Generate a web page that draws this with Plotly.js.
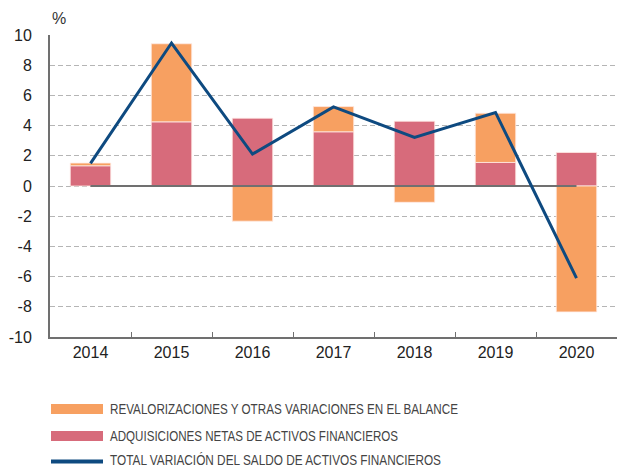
<!DOCTYPE html>
<html>
<head>
<meta charset="utf-8">
<script src="https://cdn.plot.ly/plotly-3.0.1.min.js"></script>
<style>html,body{margin:0;padding:0;background:#fff;}#chart{width:617px;height:468px;}</style>
</head>
<body>
<div id="chart"></div>
<script>
// Data
var years = ["2014", "2015", "2016", "2017", "2018", "2019", "2020"];
var revalorizaciones = [0.18, 5.17, -2.33, 1.67, -1.08, 3.26, -8.34];
var adquisiciones = [1.34, 4.25, 4.49, 3.59, 4.29, 1.56, 2.22];
var totalVariacion = [1.5, 9.47, 2.11, 5.24, 3.22, 4.87, -6.1];
var zeroBase = [0, 0, 0, 0, 0, 0, 0];
var yTicks = [-10, -8, -6, -4, -2, 0, 2, 4, 6, 8, 10];
var legendLabels = [
  "REVALORIZACIONES Y OTRAS VARIACIONES EN EL BALANCE",
  "ADQUISICIONES NETAS DE ACTIVOS FINANCIEROS",
  "TOTAL VARIACIÓN DEL SALDO DE ACTIVOS FINANCIEROS"
];

var cOrange = "#F7A061", cPink = "#D76B7B", cBlue = "#0E4A80", cAxis = "#707070";
var W = 617, H = 468, L = 50, R = 0, T = 35, B = 131;
function px(x) { return (x - L) / (W - L - R); }
function py(y) { return (H - B - y) / (H - B - T); }

var traces = [
  {type: "bar", x: years, y: adquisiciones, name: legendLabels[1], width: 0.5,
   marker: {color: cPink, line: {color: "rgba(255,235,230,0.8)", width: 1}}, showlegend: false},
  {type: "bar", x: years, y: revalorizaciones, name: legendLabels[0], width: 0.5,
   marker: {color: cOrange, line: {color: "rgba(255,235,230,0.8)", width: 1}}, showlegend: false},
  {type: "scatter", mode: "lines", x: years, y: zeroBase, line: {color: cAxis, width: 2},
   hoverinfo: "skip", showlegend: false},
  {type: "scatter", mode: "lines", x: years, y: totalVariacion, name: legendLabels[2],
   line: {color: cBlue, width: 3}, showlegend: false}
];

var legendFont = {family: "'Liberation Sans', Arial, sans-serif", size: 14, color: "#444"};
var shapes = [
  {type: "rect", xref: "paper", yref: "paper", x0: px(51), x1: px(103), y0: py(404), y1: py(414), fillcolor: cOrange, line: {width: 0}},
  {type: "rect", xref: "paper", yref: "paper", x0: px(51), x1: px(103), y0: py(431), y1: py(441), fillcolor: cPink, line: {width: 0}},
  {type: "line", xref: "paper", yref: "paper", x0: px(51), x1: px(103), y0: py(461.5), y1: py(461.5), line: {color: cBlue, width: 4}}
];
var legY = [409, 435.5, 460];
var legLeft = 110;
var legWidths = [348, 288, 331];
var annotations = legendLabels.map(function (t, i) {
  return {xref: "paper", yref: "paper", x: px(legLeft), y: py(legY[i]), xanchor: "left", yanchor: "middle",
          text: t, showarrow: false, font: legendFont};
});
annotations.push({xref: "paper", yref: "paper", x: px(50), y: py(18), xanchor: "left", yanchor: "middle",
  text: "%", showarrow: false, font: {family: "'Liberation Sans', Arial, sans-serif", size: 16, color: "#333"}});

var layout = {
  width: W, height: H,
  margin: {l: L, r: R, t: T, b: B, pad: 0},
  paper_bgcolor: "#fff", plot_bgcolor: "#fff",
  barmode: "relative",
  showlegend: false,
  font: {family: "'Liberation Sans', Arial, sans-serif", size: 16, color: "#222"},
  xaxis: {
    type: "category", range: [-0.5, 6.5], tickvals: years, ticktext: years,
    showgrid: false, zeroline: false, showline: true, linecolor: cAxis, linewidth: 2,
    ticks: "inside", tickson: "boundaries", ticklen: 5, tickcolor: cAxis, tickwidth: 1,
    tickfont: {size: 16, color: "#222"}, fixedrange: true
  },
  yaxis: {
    range: [-10, 10], tickvals: yTicks, ticktext: yTicks.map(String),
    showgrid: true, gridcolor: "#b5b5b5", gridwidth: 1, griddash: "5px,3px",
    zeroline: false, showline: true, linecolor: cAxis, linewidth: 2,
    ticks: "outside", ticklen: 13, tickcolor: "rgba(0,0,0,0)",
    tickfont: {size: 16, color: "#222"}, fixedrange: true
  },
  shapes: shapes,
  annotations: annotations
};

Plotly.newPlot("chart", traces, layout, {displayModeBar: false, staticPlot: true}).then(function () {
  // condense legend text horizontally, like the narrow font of the reference
  var svg = document.querySelector("#chart .main-svg:last-of-type");
  var texts = document.querySelectorAll(".annotation-text");
  texts.forEach(function (el) {
    var idx = legendLabels.indexOf(el.textContent);
    if (idx < 0) return;
    var bb = el.getBBox();
    var shift = legLeft - bb.x; // bbox in local coords; we want left edge at legLeft in page coords
    var ctm = el.getScreenCTM();
    var pageLeft = bb.x + (ctm ? ctm.e : 0);
    var newX = bb.x + (legLeft - pageLeft);
    el.setAttribute("text-anchor", "start");
    el.style.textAnchor = "start";
    el.setAttribute("x", newX);
    el.querySelectorAll("tspan").forEach(function (ts) { if (ts.hasAttribute("x")) ts.setAttribute("x", newX); });
    el.setAttribute("textLength", legWidths[idx]);
    el.setAttribute("lengthAdjust", "spacingAndGlyphs");
  });
});
</script>
</body>
</html>
